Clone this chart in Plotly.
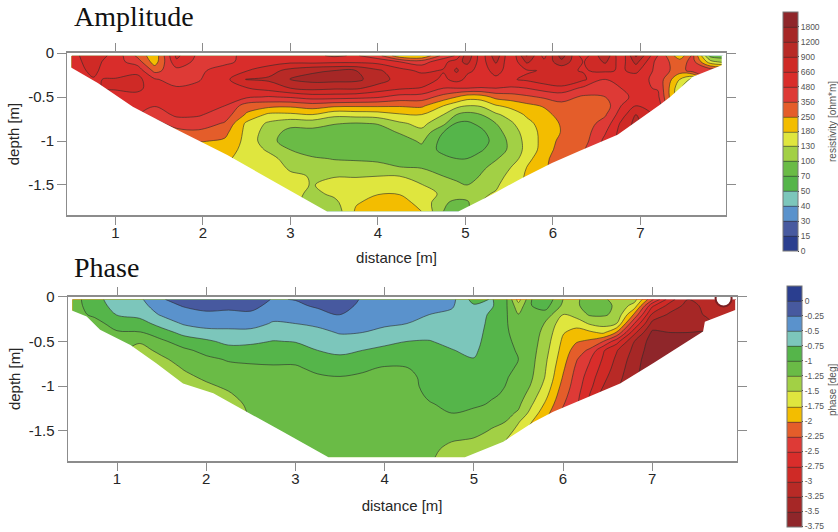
import plotly.graph_objects as go

W, H = 838, 532

amp_levels = ["0","15","30","40","50","70","100","130","180","250","350","480","660","900","1200","1800"]
amp_level_values = [0,15,30,40,50,70,100,130,180,250,350,480,660,900,1200,1800]
phase_levels = ["-3.75","-3.5","-3.25","-3","-2.75","-2.5","-2.25","-2","-1.75","-1.5","-1.25","-1","-0.75","-0.5","-0.25","0"]
phase_level_values = [-3.75,-3.5,-3.25,-3,-2.75,-2.5,-2.25,-2,-1.75,-1.5,-1.25,-1,-0.75,-0.5,-0.25,0]
palette = ["#2a3e8f","#47599f","#5a92cc","#7cc6bb","#55b54a","#6abb46","#a2d045","#dfe63e",
           "#f3bd00","#e45d2a","#de3a36","#d92d2b","#cf2a26","#b82a26","#a62726","#8f262a"]

depths = [-0.03,-0.1,-0.2,-0.3,-0.4,-0.5,-0.6,-0.7,-0.8,-0.9,-1.0,-1.1,-1.2,-1.3,-1.4,-1.5,-1.6,-1.7,-1.8]

amp_x = [0.5,0.75,1,1.25,1.45,1.7,1.95,2.25,2.5,2.75,3,3.25,3.5,3.75,4,4.25,4.5,4.75,4.9,5.02,5.18,5.35,5.52,5.7,5.9,6.1,6.35,6.6,6.78,6.95,7.2,7.45,7.6,7.8,7.95]
amp_cols = [
 [600,600,600],
 [800,750,700,650,650],
 [600,550,560,680,680,600],
 [330,420,600,750,760,560,510,500],
 [200,215,320,500,520,520,490,400,320],
 [720,620,430,420,500,540,540,520,400,320,280],
 [450,430,440,470,520,540,540,500,420,330,260,220],
 [380,430,600,600,620,600,480,420,340,280,240,210,190,180],
 [600,560,650,920,650,510,300,240,170,165,165,165,165,165,165],
 [560,570,800,950,750,470,280,170,125,115,110,125,150,160,165,165,165],
 [600,620,1000,1250,900,500,270,170,110,90,85,100,115,125,140,150,150,150],
 [520,600,1150,1400,1000,560,300,180,112,90,80,82,105,118,128,128,122,115,115],
 [460,620,1200,1400,950,560,270,145,102,85,78,78,98,115,128,150,140,122,110],
 [500,620,1200,1350,950,540,265,150,98,82,76,76,96,113,128,150,165,175,190],
 [400,600,950,1050,800,500,265,155,102,85,75,75,92,112,130,160,178,205,230],
 [200,480,750,800,700,430,260,175,125,103,85,78,85,101,130,155,178,205,230],
 [180,420,620,800,650,420,270,180,145,122,105,90,85,98,118,132,150,165,180],
 [400,600,680,620,480,310,180,130,108,70,62,64,78,85,100,115,125,105,100],
 [500,800,950,750,480,250,145,100,68,58,54,58,70,82,94,105,115,92,88],
 [1150,1000,700,620,480,210,130,90,66,57,54,58,70,80,88,100,115,95,95],
 [550,560,620,640,470,215,135,100,78,65,62,68,82,95,102,112,125,130],
 [1100,950,700,640,480,280,175,125,100,88,80,85,98,108,118,125,135,140],
 [480,500,620,640,460,300,200,150,125,115,108,106,112,130,145,160,165],
 [1250,950,640,700,480,330,230,190,165,150,145,145,160,180,190],
 [600,720,680,800,560,370,260,225,210,205,205,210,235,240],
 [1500,1100,700,900,600,400,320,290,260,255,280,300,300],
 [550,650,650,700,450,335,310,300,300,300,310,340],
 [1150,950,700,480,420,350,300,340,400,470,530],
 [500,560,640,520,480,440,480,570,700,750],
 [1300,1000,720,560,520,530,660,900,1000],
 [480,420,430,440,470,520,600],
 [200,300,300,180,140,130],
 [380,400,420,120,90],
 [90,150,450,450],
 [85,120,450],
]
amp_edge_x = [0.47,0.47,0.80,1.2,1.66,2.28,2.85,3.34,3.42,4.92,5.3,5.65,5.99,6.31,6.74,7.22,7.34,7.6,7.93,7.93]
amp_edge_depth = [-0.03,-0.15,-0.34,-0.61,-0.85,-1.16,-1.48,-1.76,-1.8,-1.8,-1.61,-1.42,-1.25,-1.11,-0.93,-0.59,-0.5,-0.27,-0.14,-0.03]

phase_x = [0.5,0.75,1,1.25,1.5,1.75,2,2.25,2.5,2.75,3,3.25,3.5,3.75,4,4.25,4.5,4.75,5,5.2,5.35,5.5,5.65,5.8,6,6.15,6.3,6.45,6.6,6.8,7,7.2,7.4,7.6,7.8,7.94]
phase_cols = [
 [-1.1,-1.1,-1.1],
 [-0.85,-0.88,-0.95,-1.1,-1.1],
 [-0.6,-0.65,-0.74,-0.88,-1.03,-1.15],
 [-0.55,-0.6,-0.68,-0.85,-1.02,-1.22,-1.35],
 [-0.27,-0.35,-0.47,-0.66,-0.85,-1.05,-1.18,-1.3,-1.4],
 [-0.15,-0.23,-0.36,-0.47,-0.68,-0.87,-1.05,-1.14,-1.23,-1.32,-1.4],
 [-0.1,-0.17,-0.3,-0.42,-0.57,-0.8,-0.93,-1.05,-1.12,-1.2,-1.3,-1.4],
 [-0.1,-0.18,-0.32,-0.43,-0.55,-0.68,-0.85,-0.98,-1.06,-1.13,-1.2,-1.29,-1.4],
 [-0.1,-0.17,-0.3,-0.42,-0.56,-0.7,-0.85,-0.97,-1.03,-1.07,-1.1,-1.13,-1.17,-1.22,-1.25],
 [-0.27,-0.33,-0.43,-0.52,-0.63,-0.76,-0.85,-0.95,-1.03,-1.07,-1.1,-1.12,-1.14,-1.15,-1.17,-1.18,-1.18],
 [-0.24,-0.3,-0.4,-0.5,-0.62,-0.74,-0.84,-0.95,-1.03,-1.07,-1.1,-1.12,-1.14,-1.15,-1.16,-1.17,-1.18,-1.19,-1.2],
 [-0.1,-0.21,-0.34,-0.45,-0.57,-0.66,-0.75,-0.85,-0.95,-1.03,-1.08,-1.1,-1.12,-1.13,-1.15,-1.16,-1.17,-1.18,-1.19],
 [-0.08,-0.13,-0.24,-0.36,-0.48,-0.6,-0.7,-0.8,-0.9,-1.01,-1.06,-1.09,-1.11,-1.12,-1.13,-1.14,-1.15,-1.16,-1.17],
 [-0.28,-0.32,-0.38,-0.44,-0.5,-0.62,-0.75,-0.86,-0.97,-1.03,-1.06,-1.08,-1.1,-1.1,-1.1,-1.1,-1.1,-1.1,-1.1],
 [-0.28,-0.32,-0.4,-0.47,-0.55,-0.7,-0.8,-0.92,-1.02,-1.06,-1.08,-1.08,-1.08,-1.08,-1.08,-1.08,-1.08,-1.08,-1.08],
 [-0.27,-0.32,-0.42,-0.5,-0.63,-0.75,-0.84,-0.93,-1.01,-1.06,-1.06,-1.06,-1.06,-1.06,-1.06,-1.08,-1.1,-1.12,-1.15],
 [-0.4,-0.44,-0.5,-0.6,-0.68,-0.76,-0.82,-0.87,-0.9,-0.93,-0.95,-0.98,-1.01,-1.05,-1.1,-1.13,-1.15,-1.18,-1.2],
 [-0.42,-0.47,-0.55,-0.6,-0.65,-0.7,-0.76,-0.82,-0.85,-0.87,-0.9,-0.93,-0.97,-1.0,-1.06,-1.13,-1.23,-1.32,-1.4],
 [-0.85,-0.72,-0.6,-0.58,-0.62,-0.66,-0.7,-0.76,-0.8,-0.83,-0.87,-0.9,-0.96,-1.05,-1.12,-1.18,-1.27,-1.35,-1.45],
 [-0.73,-0.72,-0.8,-0.85,-0.87,-0.88,-0.9,-0.92,-0.93,-0.95,-0.97,-0.98,-1.02,-1.12,-1.2,-1.27,-1.4,-1.5,-1.55],
 [-0.9,-0.93,-0.95,-0.97,-0.97,-0.97,-0.97,-0.98,-0.98,-0.99,-1.0,-1.02,-1.1,-1.18,-1.25,-1.35,-1.48,-1.55],
 [-1.6,-1.4,-1.24,-1.12,-1.07,-1.03,-1.01,-1.0,-1.01,-1.03,-1.07,-1.12,-1.2,-1.28,-1.48,-1.6,-1.7],
 [-1.0,-1.0,-1.05,-1.1,-1.12,-1.14,-1.16,-1.18,-1.2,-1.23,-1.28,-1.38,-1.48,-1.6,-1.75,-1.85],
 [-0.8,-0.9,-1.1,-1.27,-1.33,-1.37,-1.41,-1.45,-1.48,-1.51,-1.58,-1.67,-1.78,-1.9,-2.0],
 [-1.25,-1.3,-1.5,-1.65,-1.73,-1.8,-1.85,-1.9,-1.96,-2.02,-2.09,-2.16,-2.23,-2.3],
 [-1.3,-1.3,-1.4,-1.65,-1.85,-1.98,-2.12,-2.23,-2.3,-2.35,-2.38,-2.42,-2.45],
 [-1.1,-1.1,-1.22,-1.47,-1.8,-2.05,-2.3,-2.48,-2.55,-2.62,-2.68,-2.76,-2.8],
 [-1.15,-1.15,-1.22,-1.4,-1.7,-2.25,-2.72,-2.78,-2.85,-2.93,-3.0,-3.1],
 [-1.45,-1.3,-1.3,-1.5,-2.02,-2.65,-2.98,-3.05,-3.1,-3.15,-3.2],
 [-1.4,-1.6,-2.05,-2.5,-2.93,-3.25,-3.32,-3.38,-3.42,-3.45,-3.47],
 [-2.2,-2.7,-3.05,-3.33,-3.55,-3.62,-3.65,-3.68,-3.68],
 [-2.9,-3.1,-3.3,-3.4,-3.5,-3.6,-3.65],
 [-3.25,-3.33,-3.4,-3.45,-3.5,-3.55],
 [-3.2,-3.2,-3.22,-3.35,-3.5],
 [-3.1,-3.1,-3.1],
 [-3.1,-3.1,-3.1],
]
phase_edge_x = [0.48,0.48,0.66,0.81,1.15,1.44,1.74,2.08,2.43,2.86,3.37,4.9,5.33,5.67,5.89,6.3,6.64,7.01,7.57,7.59,7.93,7.93]
phase_edge_depth = [-0.037,-0.15,-0.22,-0.37,-0.54,-0.745,-0.97,-1.08,-1.27,-1.51,-1.795,-1.795,-1.62,-1.40,-1.285,-1.11,-0.97,-0.745,-0.39,-0.28,-0.15,-0.037]
phase_hole_x = [7.8]
phase_hole_depth = [-0.02]

x_ticks = [1,2,3,4,5,6,7]
x_labels = ["1","2","3","4","5","6","7"]
y_ticks = [0,-0.5,-1,-1.5]
y_labels = ["0","-0.5","-1","-1.5"]


def table(cols):
    n = len(depths)
    filled = [c + [c[-1]] * (n - len(c)) for c in cols]
    return [[filled[j][i] for j in range(len(cols))] for i in range(n)]


def to_band(v):
    for k in range(len(amp_level_values) - 1):
        a, b = amp_level_values[k], amp_level_values[k + 1]
        if v <= b:
            return k + (v - a) / (b - a)
    return 15 + (v - 1800) / 600


amp_z = [[to_band(v) for v in row] for row in table(amp_cols)]
phase_z = table(phase_cols)
scale = [[i / 15, c] for i, c in enumerate(palette)]
scale_phase = [[i / 15, c] for i, c in enumerate(reversed(palette))]


def px_x(p):
    return p / W


def px_y(p):
    return 1 - p / H


fig = go.Figure()
grey = "#8c8c8c"
line_style = dict(color="#2b2b2b", width=0.6, smoothing=1)
cb_common = dict(thickness=15, thicknessmode="pixels", lenmode="pixels", xanchor="left", xpad=0, ypad=0,
                 yanchor="middle", outlinecolor="#777", outlinewidth=1, ticks="outside", ticklen=1,
                 tickcolor="#333", tickfont=dict(family="Liberation Sans", size=8.5, color="#555"),
                 tickmode="array")

fig.add_trace(go.Contour(
    x=amp_x, y=depths, z=amp_z, xaxis="x", yaxis="y",
    autocontour=False, contours=dict(start=1, end=15, size=1, coloring="fill", showlines=True),
    line=line_style, colorscale=scale, zmin=0, zmax=16,
    colorbar=dict(x=px_x(782.7), y=px_y(131.5), len=239,
                  tickvals=list(range(16)), ticktext=amp_levels, **cb_common),
    hoverinfo="skip"))

fig.add_trace(go.Contour(
    x=phase_x, y=depths, z=phase_z, xaxis="x2", yaxis="y2",
    autocontour=False, contours=dict(start=-3.5, end=0, size=0.25, coloring="fill", showlines=True),
    line=line_style, colorscale=scale_phase, zmin=-3.75, zmax=0.25,
    colorbar=dict(x=px_x(786.7), y=px_y(406), len=241,
                  tickvals=phase_level_values, ticktext=phase_levels, **cb_common),
    hoverinfo="skip"))


def mask(edge_x, edge_d, xa, ya, xr, yb):
    left, right = xr[0] - 0.2, xr[1] + 0.2
    xs = [left] + edge_x + [right, right, left, left]
    ys = [0] + edge_d + [0, yb - 0.2, yb - 0.2, 0]
    return go.Scatter(x=xs, y=ys, mode="lines", fill="toself", fillcolor="white",
                      line=dict(width=0, color="white"), xaxis=xa, yaxis=ya,
                      hoverinfo="skip", showlegend=False)


amp_xr = [0.448, 7.979]
phase_xr = [0.445, 7.947]
fig.add_trace(mask(amp_edge_x, amp_edge_depth, "x", "y", amp_xr, -1.841))
fig.add_trace(mask(phase_edge_x, phase_edge_depth, "x2", "y2", phase_xr, -1.836))
fig.add_trace(go.Scatter(x=phase_hole_x, y=phase_hole_depth, mode="markers", xaxis="x2", yaxis="y2",
                         marker=dict(size=16, color="white", line=dict(color="#7a1f22", width=2)),
                         hoverinfo="skip", showlegend=False))

font = dict(family="Liberation Sans", size=15, color="#262626")
def xaxis(domain, rng, anchor, standoff):
    return dict(domain=domain, range=rng, anchor=anchor, tickvals=x_ticks, ticktext=x_labels,
                showgrid=False, zeroline=False, showline=True, linecolor=grey, linewidth=2, mirror="ticks",
                ticks="outside", ticklen=8, tickcolor=grey, tickwidth=1, tickfont=font, ticklabelstandoff=-5,
                title=dict(text="distance [m]", font=font, standoff=standoff))
def yaxis(domain, rng, anchor):
    return dict(domain=domain, range=rng, anchor=anchor, tickvals=y_ticks, ticktext=y_labels,
                showgrid=False, zeroline=False, showline=True, linecolor=grey, linewidth=1, mirror="ticks",
                ticks="outside", ticklen=9, tickcolor=grey, tickwidth=1, tickfont=font,
                title=dict(text="depth [m]", font=font, standoff=4))

cb_title = dict(family="Liberation Sans", size=10, color="#555")
fig.update_layout(
    width=W, height=H, margin=dict(l=0, r=0, t=0, b=0, autoexpand=False), paper_bgcolor="white", plot_bgcolor="white",
    showlegend=False,
    xaxis=xaxis([px_x(67), px_x(726)], amp_xr, "y", 12),
    yaxis=yaxis([px_y(215), px_y(53)], [-1.841, 0], "x"),
    xaxis2=xaxis([px_x(67.5), px_x(736.7)], phase_xr, "y2", 14),
    yaxis2=yaxis([px_y(461), px_y(296.7)], [-1.836, 0], "x2"),
    annotations=[
        dict(text="Amplitude", x=px_x(72), y=px_y(17), xref="paper", yref="paper", xanchor="left", yanchor="middle",
             showarrow=False, font=dict(family="Liberation Serif", size=28, color="#111")),
        dict(text="Phase", x=px_x(72), y=px_y(267), xref="paper", yref="paper", xanchor="left", yanchor="middle",
             showarrow=False, font=dict(family="Liberation Serif", size=28, color="#111")),
        dict(text="resistivity [ohm*m]", x=px_x(832), y=px_y(122), xref="paper", yref="paper", textangle=-90,
             xanchor="center", yanchor="middle", showarrow=False, font=cb_title),
        dict(text="phase [deg]", x=px_x(832), y=px_y(390), xref="paper", yref="paper", textangle=-90,
             xanchor="center", yanchor="middle", showarrow=False, font=cb_title),
    ],
)

fig.write_html("out.html", config=dict(displayModeBar=False), post_script="document.body.style.margin='0';")
